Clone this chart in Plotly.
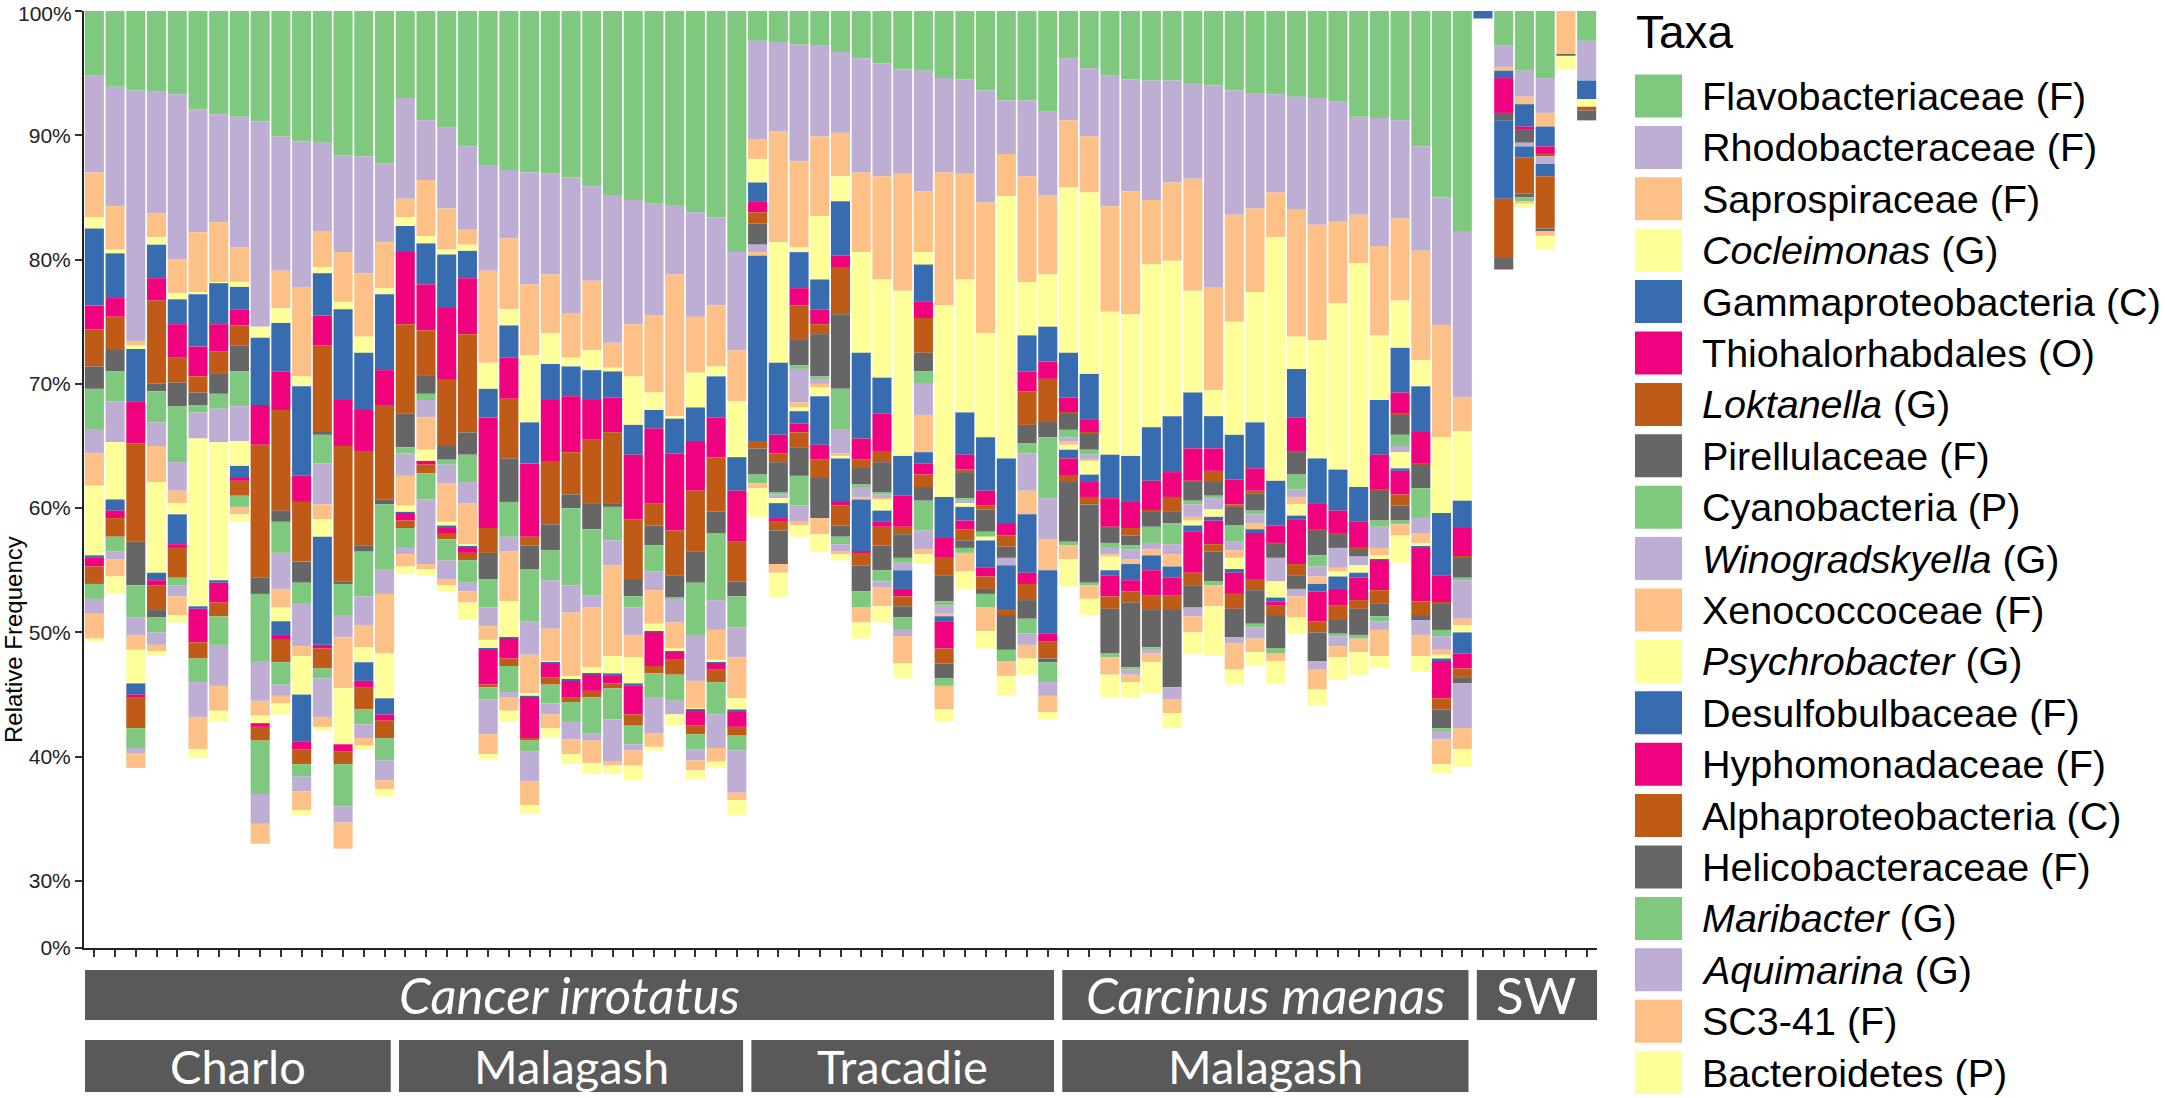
import numpy as np
import plotly.graph_objects as go

# relative frequency (%) of each taxon per sample, samples 0..72, stacked from the top (100%) down
flavobacteriaceae = [5.2, 6.1, 6.4, 6.5, 6.7, 7.9, 8.3, 8.5, 8.9, 10.1, 10.5, 10.6,
                     11.6, 11.7, 12.3, 7.0, 8.8, 9.4, 10.9, 12.4, 12.8, 13.0, 13.1, 13.4,
                     14.1, 14.8, 15.2, 15.5, 15.6, 16.2, 16.6, 19.4, 2.4, 2.5, 2.7, 2.8,
                     3.3, 3.8, 4.2, 4.7, 4.8, 5.4, 5.5, 6.4, 7.2, 7.2, 8.1, 3.8,
                     4.6, 5.2, 5.5, 5.6, 5.6, 5.8, 6.0, 6.4, 6.6, 6.7, 6.9, 7.0,
                     7.3, 8.5, 8.6, 8.8, 10.9, 15.0, 17.7, 0, 2.8, 4.8, 5.4, 0, 2.4]
rhodobacteraceae = [7.8, 9.6, 20.2, 9.8, 13.3, 9.9, 8.7, 10.5, 16.5, 10.8, 11.7, 7.1,
                    7.8, 9.4, 6.3, 8.1, 4.8, 6.5, 6.7, 8.5, 5.5, 9.0, 8.1, 10.9,
                    7.6, 11.9, 10.0, 9.0, 5.6, 8.4, 7.1, 7.9, 7.9, 7.2, 9.4, 7.3,
                    6.5, 9.2, 9.1, 8.4, 9.7, 7.6, 7.6, 9.0, 4.3, 6.1, 6.7, 5.0,
                    5.5, 10.5, 9.0, 9.6, 8.2, 7.7, 16.2, 10.0, 9.3, 7.9, 9.1, 10.2,
                    9.6, 7.9, 10.3, 7.9, 8.4, 10.3, 13.4, 0, 1.7, 2.1, 2.8, 0, 3.2]
saprospiraceae = [3.6, 3.5, 0.3, 1.9, 2.7, 4.8, 4.8, 2.8, 0, 3.0, 7.2, 2.9,
                  4.0, 5.1, 3.7, 1.5, 4.5, 3.3, 1.2, 7.4, 5.7, 5.7, 4.7, 3.6,
                  5.6, 2.0, 4.2, 6.2, 11.4, 4.5, 4.9, 4.1, 1.6, 8.9, 6.9, 6.4,
                  3.5, 6.4, 8.3, 9.4, 4.9, 10.7, 8.5, 10.5, 3.4, 8.5, 6.4, 5.4,
                  4.5, 8.5, 9.9, 5.2, 6.3, 9.0, 8.3, 8.6, 6.7, 3.6, 10.2, 9.3,
                  6.6, 3.9, 7.2, 6.6, 8.8, 9.0, 2.7, 0, 0.3, 0.6, 1.1, 3.5, 0]
cocleimonas = [0.9, 0.3, 0.3, 0.6, 0.5, 0.2, 0.1, 0.4, 0.9, 1.2, 0.8, 0.5,
               0.6, 1.3, 0.5, 0.7, 0.6, 0.4, 0.5, 2.1, 1.3, 5.4, 2.5, 0.7,
               1.6, 0.3, 3.9, 1.4, 0.2, 2.8, 0.8, 4.5, 1.9, 9.7, 0.4, 5.1,
               2.0, 8.1, 7.9, 13.3, 1.0, 15.4, 10.7, 8.4, 21.1, 4.3, 4.2, 13.3,
               14.6, 11.5, 11.4, 13.1, 12.5, 8.2, 2.1, 9.1, 10.5, 19.6, 2.6, 9.5,
               13.4, 18.0, 5.2, 3.8, 2.1, 6.1, 5.6, 0, 0, 0, 0, 0, 0]
gammaproteobacteria = [6.2, 3.6, 4.2, 2.7, 2.0, 4.2, 3.3, 1.8, 5.4, 3.9, 7.2, 3.4,
                       7.3, 4.6, 6.1, 2.1, 3.3, 4.3, 2.2, 2.3, 2.6, 3.3, 2.9, 2.4,
                       2.4, 2.1, 2.4, 1.5, 2.8, 2.7, 3.3, 2.7, 1.5, 5.8, 2.9, 2.4,
                       4.4, 6.9, 2.9, 3.2, 3.0, 3.3, 3.4, 4.3, 5.2, 2.9, 2.8, 3.6,
                       3.7, 3.5, 3.7, 4.3, 4.5, 4.5, 2.6, 3.6, 3.7, 3.6, 3.9, 3.6,
                       3.3, 2.8, 4.4, 3.6, 3.6, 5.0, 2.2, 0.6, 0.6, 1.8, 1.6, 0, 1.5]
thiohalorhabdales = [1.9, 1.5, 3.4, 1.8, 2.7, 2.4, 2.2, 1.3, 3.2, 3.1, 2.1, 2.4,
                     3.7, 3.3, 2.8, 5.8, 3.7, 5.7, 4.5, 8.9, 3.3, 5.9, 4.9, 4.5,
                     3.2, 2.8, 5.2, 6.0, 6.2, 4.0, 3.2, 4.1, 0.9, 1.5, 1.4, 1.2,
                     0.9, 1.7, 3.0, 2.5, 1.3, 1.6, 1.2, 1.2, 1.0, 1.6, 1.4, 1.2,
                     1.0, 2.3, 2.1, 2.4, 2.0, 2.6, 1.8, 2.0, 1.8, 1.4, 2.7, 2.1,
                     1.8, 2.1, 2.8, 1.7, 2.6, 2.2, 2.3, 0, 2.8, 0.2, 0.6, 0, 0]
loktanella = [3.0, 2.6, 7.9, 6.7, 2.0, 1.3, 1.8, 1.6, 10.7, 8.1, 4.8, 6.9,
              10.9, 7.6, 7.6, 7.2, 3.6, 5.4, 7.9, 2.0, 4.8, 0.7, 5.1, 3.4,
              5.1, 5.7, 4.8, 1.8, 3.6, 4.9, 4.4, 3.2, 0.9, 0.7, 2.7, 0.8,
              3.8, 0.6, 0.9, 0.6, 2.8, 1.4, 0.2, 0.3, 0.9, 2.7, 3.4, 0.1,
              0.1, 0.1, 0.6, 0.1, 1.2, 0.1, 0.9, 0.2, 0.2, 0.1, 0.1, 0.1,
              0.1, 0.1, 0.1, 0.1, 0.1, 0.1, 0.1, 0, 0, 0, 0.2, 0, 0]
pirellulaceae = [1.8, 1.8, 3.5, 0.6, 1.9, 1.0, 1.6, 2.1, 1.3, 0.9, 1.7, 0.3,
                 0.2, 0.5, 0.4, 2.7, 1.5, 1.1, 1.8, 2.1, 3.5, 1.9, 2.1, 1.1,
                 2.1, 0.3, 1.4, 1.6, 1.8, 2.5, 1.7, 1.2, 1.7, 2.4, 2.1, 3.4,
                 6.0, 1.4, 2.4, 1.9, 1.5, 2.1, 2.1, 1.8, 0.9, 1.5, 1.3, 1.3,
                 1.3, 1.2, 0.8, 1.2, 0.9, 1.5, 1.1, 1.5, 1.4, 1.1, 1.8, 2.0,
                 1.1, 0.6, 2.4, 1.6, 1.9, 2.1, 1.6, 0, 0.6, 1.1, 0, 0.1, 0]
cyanobacteria = [3.3, 2.4, 2.6, 2.5, 4.5, 0.6, 1.2, 2.8, 5.4, 2.5, 1.7, 2.3,
                 2.5, 3.6, 5.2, 0.5, 0.5, 0.4, 2.2, 2.3, 2.8, 4.2, 2.4, 6.2,
                 5.3, 2.7, 0.9, 2.1, 0.1, 4.2, 5.4, 2.5, 0, 0.2, 0.3, 0.2,
                 3.3, 0.2, 0.2, 0.4, 1.0, 0.3, 0.2, 0.4, 0, 0.8, 4.9, 0.6,
                 0.4, 0.4, 0.3, 1.3, 1.7, 0.3, 0.2, 1.3, 0.3, 0, 1.2, 0.9,
                 0, 0, 0.5, 0.9, 2.4, 0.5, 0.2, 0, 0, 0, 0, 0, 0]
winogradskyella = [1.9, 3.3, 1.4, 1.9, 2.3, 2.1, 2.7, 2.8, 3.2, 2.9, 3.4, 3.3,
                   1.8, 2.3, 2.0, 1.8, 1.4, 1.5, 1.7, 1.5, 1.2, 2.7, 3.9, 2.2,
                   1.0, 2.0, 2.2, 1.5, 1.9, 3.7, 2.4, 2.4, 0.6, 0.3, 2.7, 0.4,
                   1.9, 0.8, 0.3, 0.6, 2.5, 0.7, 0.2, 0, 0.6, 3.0, 3.3, 0.3,
                   0.4, 0.5, 0.8, 0.5, 0.8, 1.0, 0.9, 0.7, 0.7, 1.9, 0.6, 0.8,
                   1.6, 0.7, 1.7, 0.5, 1.2, 1.1, 3.1, 0, 0, 0.3, 0.6, 0, 0]
xenococcaceae = [2.6, 0, 1.2, 2.9, 1.0, 0, 0, 0, 1.2, 1.5, 0.8, 1.2,
                 4.1, 1.8, 4.8, 2.4, 2.6, 3.1, 3.3, 1.1, 4.0, 3.1, 2.6, 5.1,
                 4.8, 7.3, 1.8, 2.7, 2.1, 2.2, 2.4, 3.3, 0.3, 0, 0.4, 0.3,
                 0.2, 0.2, 0.1, 0, 3.0, 0.2, 0, 0, 0, 1.9, 2.5, 0.3,
                 0.1, 0.2, 0.4, 0.5, 1.0, 0.3, 0, 0.6, 0.5, 0, 0.6, 0.6,
                 0.3, 0, 0.6, 0, 0.8, 0.4, 0.5, 0, 0, 0, 0, 0, 0]
psychrobacter = [5.6, 4.6, 2.7, 7.3, 0.9, 13.5, 11.1, 2.0, 0.6, 1.1, 3.1, 1.4,
                 4.5, 1.2, 3.6, 0.5, 0.9, 0.3, 0.2, 0.7, 2.9, 0.2, 0.1, 0.3,
                 0.5, 1.4, 2.1, 0.6, 0.2, 0.1, 0.2, 0.9, 0, 0.4, 0.3, 0.7,
                 0.2, 0, 0.9, 0, 0, 0, 0.3, 0.3, 0, 0, 0, 0.4,
                 1.1, 1.1, 0, 0, 0, 0.4, 0.6, 0.9, 0, 1.3, 0.9, 0,
                 0.4, 0.6, 0.3, 1.3, 0.3, 0.3, 0.6, 0, 0, 0, 0, 1.1, 0.6]
desulfobulbaceae = [0.2, 0.9, 0.9, 0.6, 2.4, 0.2, 0.2, 0.9, 0, 1.1, 3.8, 8.7,
                    0, 1.5, 1.3, 0.1, 0, 0.2, 0.1, 0.1, 0.1, 0.1, 0.1, 0.1,
                    0.1, 0.2, 0.2, 0.1, 0.1, 0.1, 0.1, 0.2, 14.9, 1.2, 1.0, 3.9,
                    3.5, 4.2, 0.9, 1.5, 0.9, 0.4, 1.1, 2.2, 3.6, 4.7, 5.1, 0.7,
                    0.6, 0.4, 1.3, 1.2, 0.9, 0.5, 0.3, 0.3, 0.3, 0.3, 0.3, 0.6,
                    1.0, 0.4, 0.1, 0.2, 0.1, 0.2, 1.7, 0, 6.3, 0.9, 1.0, 0, 0]
hyphomonadaceae = [0.7, 0.6, 0.2, 0.4, 0.3, 2.7, 1.6, 0.3, 0.3, 0.4, 0.6, 0.3,
                   0.6, 0.5, 0.5, 0.6, 0.3, 0.4, 0.4, 2.8, 1.6, 3.3, 1.1, 1.3,
                   1.3, 0.6, 2.3, 2.7, 0.6, 1.2, 0.5, 1.2, 0, 0.3, 0.7, 1.2,
                   0.3, 0.1, 0.4, 0.6, 0.9, 2.2, 0.7, 0.7, 0, 0.9, 0.6, 1.4,
                   1.2, 1.7, 0.9, 2.0, 1.4, 3.3, 1.9, 1.7, 3.7, 0.3, 3.6, 2.4,
                   1.3, 1.8, 2.4, 1.9, 4.3, 3.0, 1.2, 0, 0, 0, 0, 0, 0]
alphaproteobacteria = [1.4, 1.5, 2.5, 2.0, 2.4, 1.3, 1.1, 1.2, 1.1, 1.8, 1.2, 1.6,
                       1.0, 1.8, 1.4, 0.6, 0.7, 0.5, 0.6, 0.2, 0.6, 0.2, 0.6, 0.4,
                       0.5, 0.4, 0.9, 0.6, 1.2, 0.7, 1.0, 0.7, 0.6, 0.7, 1.2, 1.4,
                       1.6, 1.0, 1.5, 0.8, 1.0, 1.2, 0.9, 1.0, 0.4, 1.3, 1.4, 0.5,
                       0.6, 1.0, 0.9, 1.2, 1.2, 1.0, 0.6, 1.2, 0.9, 0.8, 0.9, 0.9,
                       1.2, 0.7, 1.1, 0.9, 1.1, 0.9, 0.7, 0, 4.7, 2.9, 4.2, 0, 0.3]
helicobacteraceae = [0, 0, 0, 0.6, 0, 0, 0, 0, 0, 0, 0, 0,
                     0, 0, 0, 0, 0, 0, 0, 0, 0, 0, 0, 0,
                     0, 0, 0, 0, 0, 0, 0, 0, 2.1, 2.7, 2.3, 3.3,
                     0.9, 2.1, 2.0, 0.9, 1.1, 1.2, 0.6, 0.4, 2.8, 1.5, 0.3, 4.8,
                     6.3, 3.6, 5.2, 3.0, 6.2, 1.8, 2.4, 2.3, 2.7, 2.7, 1.1, 2.3,
                     1.1, 2.1, 1.0, 1.2, 0.4, 1.5, 0.5, 0, 1.0, 0.3, 0.2, 0, 0.8]
maribacter = [1.2, 1.2, 1.6, 1.2, 0.6, 1.9, 2.3, 0.9, 4.3, 1.8, 1.0, 0.8,
              3.4, 1.2, 1.8, 1.6, 2.1, 1.7, 1.8, 1.0, 2.1, 0.9, 1.5, 1.6,
              2.9, 2.5, 1.5, 1.9, 2.1, 1.2, 2.6, 1.2, 0.7, 0, 2.4, 0,
              0.6, 1.3, 0.9, 1.0, 2.4, 0.6, 0.4, 1.1, 0.9, 1.2, 1.6, 0.3,
              0.2, 0.3, 0.2, 0.2, 0, 0, 0.3, 0, 0.3, 0.4, 0, 0,
              0.2, 0.3, 0.4, 0.3, 0, 0.3, 0, 0, 0, 0.3, 0, 0, 0]
aquimarina = [1.2, 0.6, 0.4, 1.0, 0.9, 2.8, 3.3, 0, 2.4, 0.9, 1.2, 3.1,
              1.3, 1.1, 1.6, 0.5, 5.2, 1.5, 0.7, 2.8, 0.4, 2.4, 0.9, 1.4,
              0.6, 3.4, 0.5, 2.9, 1.1, 0.9, 2.7, 3.4, 0, 0, 1.3, 0,
              0.6, 0, 0.5, 0.5, 1.5, 0, 0, 0, 0, 0.9, 1.1, 0,
              0, 0, 0.4, 0.3, 1.0, 0.7, 0, 0.5, 0.9, 0, 0.6, 0.7,
              0.8, 0, 0.7, 0, 1.2, 0.6, 3.6, 0, 0, 0, 0, 0, 0]
sc3_41 = [2.0, 1.4, 1.2, 0.5, 1.5, 2.6, 2.0, 0.6, 1.6, 0.6, 1.5, 0.8,
          2.1, 0.6, 0.7, 1.0, 0.4, 0.5, 0.9, 1.6, 1.1, 1.9, 1.1, 1.2,
          1.8, 0.3, 1.2, 1.1, 0, 0.8, 1.1, 0.6, 0.4, 0.7, 0.3, 1.3,
          0.2, 1.2, 1.5, 2.2, 0.4, 1.9, 1.5, 1.9, 1.2, 1.1, 1.3, 1.1,
          1.1, 1.4, 0.6, 0.7, 1.1, 1.3, 1.7, 2.1, 1.1, 0.6, 1.7, 1.6,
          0.9, 1.1, 2.1, 0.9, 1.7, 2.0, 1.7, 0, 0, 0.2, 0.4, 0, 0]
bacteroidetes = [0.2, 1.4, 0, 0.4, 0.6, 0.7, 0.9, 0.6, 0, 0.9, 0.4, 0.3,
                 0, 0.3, 0.6, 0.6, 0.5, 0.5, 1.4, 0.4, 0.9, 0.7, 0.7, 0.8,
                 0.9, 0.7, 1.2, 0.3, 0.9, 0.7, 0.5, 1.2, 2.3, 2.0, 0.9, 1.4,
                 0.5, 1.3, 1.3, 1.2, 0.8, 1.0, 1.4, 1.4, 1.6, 1.3, 0.6, 2.2,
                 1.3, 1.8, 1.2, 2.5, 1.2, 1.7, 4.0, 1.2, 1.1, 1.8, 1.3, 1.3,
                 1.8, 1.8, 0.9, 2.2, 1.2, 0.7, 1.4, 0, 0, 0.3, 1.1, 0, 0]

taxa = ["Flavobacteriaceae (F)", "Rhodobacteraceae (F)", "Saprospiraceae (F)",
        "<i>Cocleimonas</i> (G)", "Gammaproteobacteria (C)", "Thiohalorhabdales (O)",
        "<i>Loktanella</i> (G)", "Pirellulaceae (F)", "Cyanobacteria (P)",
        "<i>Winogradskyella</i> (G)", "Xenococcoceae (F)", "<i>Psychrobacter</i> (G)",
        "Desulfobulbaceae (F)", "Hyphomonadaceae (F)", "Alphaproteobacteria (C)",
        "Helicobacteraceae (F)", "<i>Maribacter</i> (G)", "<i>Aquimarina</i> (G)",
        "SC3-41 (F)", "Bacteroidetes (P)"]
series = [flavobacteriaceae, rhodobacteraceae, saprospiraceae, cocleimonas,
          gammaproteobacteria, thiohalorhabdales, loktanella, pirellulaceae,
          cyanobacteria, winogradskyella, xenococcaceae, psychrobacter,
          desulfobulbaceae, hyphomonadaceae, alphaproteobacteria, helicobacteraceae,
          maribacter, aquimarina, sc3_41, bacteroidetes]

# sample groups: (label, first sample, last sample)
species_groups = [("<i>Cancer irrotatus</i>", 0, 46), ("<i>Carcinus maenas</i>", 47, 66), ("SW", 67, 72)]
site_groups = [("Charlo", 0, 14), ("Malagash", 15, 31), ("Tracadie", 32, 46), ("Malagash", 47, 66)]

y_ticks = [30, 40, 50, 60, 70, 80, 90, 100]

accent = ["#7fc97f", "#beaed4", "#fdc086", "#ffff99", "#386cb0", "#f0027f", "#bf5b17", "#666666"]

n = len(flavobacteriaceae)
samples = list(range(n))

# pixel frame of the plot area
W, H = 2165, 1098
PL, PR, PT, PB = 84, 1597, 11, 948
BREAK_PX = 67  # axis is compressed between 0% and 30%
px_per_pct = (PB - BREAK_PX - PT) / (100 - 30)
y0 = 30 - BREAK_PX / px_per_pct


def fx(p):
    return (p - PL) / (PR - PL)


def fy(p):
    return (PB - p) / (PB - PT)


fig = go.Figure()
cum = np.zeros(n)
for i, (name, vals) in enumerate(zip(taxa, series)):
    v = np.array(vals, dtype=float)
    cum += v
    fig.add_trace(go.Bar(
        x=samples, y=v, base=100 - cum, width=0.92,
        marker=dict(color=accent[i % 8], line=dict(width=0)),
        name=name, showlegend=False,
        hovertemplate=name + "<br>%{y:.1f}%<extra></extra>"
    ))

shapes = []
annotations = []

# group label boxes under the axis
rows = [(species_groups, 970, 1020, 51), (site_groups, 1040, 1092, 47)]
for groups, top, bottom, fsize in rows:
    for label, first, last in groups:
        left = -0.45 if first == 0 else first - 0.3
        right = last + 0.5 if last == n - 1 else last + 0.3
        shapes.append(dict(type="rect", xref="x", yref="paper",
                           x0=left, x1=right, y0=fy(bottom), y1=fy(top),
                           fillcolor="#595959", line=dict(width=0), layer="above"))
        annotations.append(dict(x=(left + right) / 2, y=fy((top + bottom) / 2),
                                xref="x", yref="paper", text=label, showarrow=False,
                                font=dict(family="Lato", size=fsize, color="white"),
                                xanchor="center", yanchor="middle"))

# legend drawn by hand: large colour swatches
annotations.append(dict(x=fx(1634), y=fy(32), xref="paper", yref="paper", text="Taxa",
                        showarrow=False, xanchor="left", yanchor="middle",
                        font=dict(family="Liberation Sans", size=46, color="black")))
for i, name in enumerate(taxa):
    yc = 96 + 51.4 * i
    shapes.append(dict(type="rect", xref="paper", yref="paper",
                       x0=fx(1635), x1=fx(1682), y0=fy(yc + 21.5), y1=fy(yc - 21.5),
                       fillcolor=accent[i % 8], line=dict(width=0)))
    annotations.append(dict(x=fx(1700), y=fy(yc), xref="paper", yref="paper", text=name,
                            showarrow=False, xanchor="left", yanchor="middle",
                            font=dict(family="Liberation Sans", size=39.5, color="black")))

# the 100% label sits at the very top edge, so place it by hand
annotations.append(dict(x=fx(74), y=fy(14), xref="paper", yref="paper", text="100%",
                        showarrow=False, xanchor="right", yanchor="middle",
                        font=dict(family="Liberation Sans", size=21, color="#222222")))
annotations.append(dict(x=fx(13), y=fy(640), xref="paper", yref="paper",
                        text="Relative Frequency", textangle=-90, showarrow=False,
                        xanchor="center", yanchor="middle",
                        font=dict(family="Liberation Sans", size=24, color="black")))

tick_text = ["0%"] + [f"{t}%" if t < 100 else "" for t in y_ticks]

fig.update_layout(
    width=W, height=H,
    margin=dict(l=PL, r=W - PR, t=PT, b=H - PB, pad=0),
    barmode="overlay",
    plot_bgcolor="white", paper_bgcolor="white",
    font=dict(family="Liberation Sans", color="black"),
    shapes=shapes, annotations=annotations,
    xaxis=dict(range=[-0.5, n - 0.5], tickmode="linear", tick0=0, dtick=1,
               ticks="outside", ticklen=7, tickwidth=2, tickcolor="#333333",
               showticklabels=False, showline=True, linecolor="#222222", linewidth=2,
               showgrid=False, zeroline=False),
    yaxis=dict(range=[y0, 100], tickmode="array",
               tickvals=[y0] + y_ticks, ticktext=tick_text,
               ticks="outside", ticklen=7, tickwidth=2, tickcolor="#333333",
               tickfont=dict(size=21, family="Liberation Sans", color="#222222"),
               showline=True, linecolor="#222222", linewidth=2,
               showgrid=False, zeroline=False),
)

# drop the page's default body margin so the figure sits at the window origin
fig.write_html("out.html", config={"displayModeBar": False},
               post_script="document.body.style.margin='0';")
